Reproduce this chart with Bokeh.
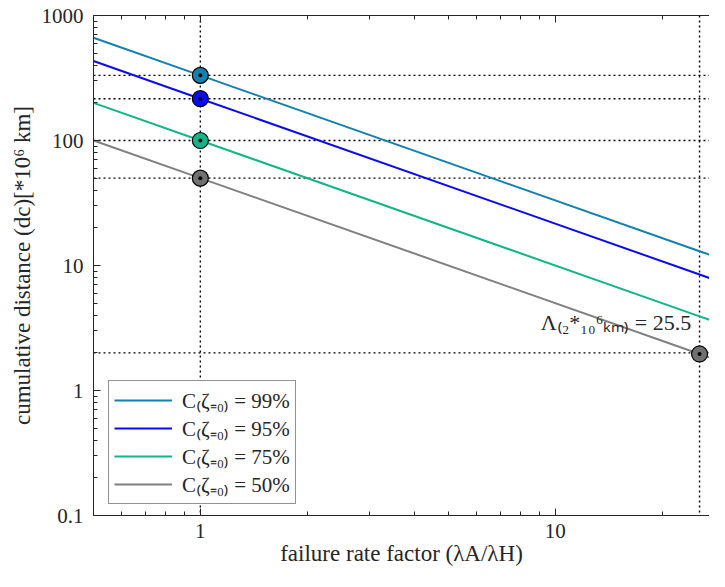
from bokeh.plotting import figure
from bokeh.models import (Span, Label, Legend, LegendItem, LogAxis, FixedTicker,
                          CustomJSTickFormatter, Range1d)
from bokeh.embed import file_html
from bokeh.resources import INLINE

# ---- data ----
factor = [0.5, 1.0, 25.5, 27.2]
d99 = [664, 332, 13.0, 12.2]
d95 = [432, 216, 8.47, 7.94]
d75 = [200, 100, 3.92, 3.68]
d50 = [100, 50, 1.96, 1.84]
series = [d99, d95, d75, d50]
series_labels = ["C₍ζ₌₀₎ = 99%", "C₍ζ₌₀₎ = 95%", "C₍ζ₌₀₎ = 75%", "C₍ζ₌₀₎ = 50%"]
colors = ["#1380B0", "#0A0AF5", "#12B58A", "#808080"]

marker_x = [1, 1, 1, 1, 25.5]
marker_y = [332, 216, 100, 50, 1.96]
marker_colors = ["#1380B0", "#0A0AF5", "#12B58A", "#707070", "#707070"]

ref_y = [332, 216, 100, 50, 2]
ref_x = [1, 25.5]

x_ticks = [1, 10]
y_ticks = [0.1, 1, 10, 100, 1000]
x_minor = [m * 10 ** e for e in (-1, 0, 1) for m in range(2, 10)]
y_minor = [m * 10 ** e for e in (-1, 0, 1, 2) for m in range(2, 10)]

annot_text = "Λ₍₂*₁₀⁶ₖₘ₎ = 25.5"
annot_x, annot_y = 9.1, 3.5

FONT = "Liberation Serif"
TXT = "#262626"

p = figure(width=709, height=571, x_axis_type="log", y_axis_type="log",
           x_range=Range1d(0.5, 27.2), y_range=Range1d(0.1, 1000),
           output_backend="svg", toolbar_location=None,
           min_border_left=93, min_border_right=0, min_border_top=15, min_border_bottom=56)
p.outline_line_color = None
p.grid.visible = False
p.background_fill_color = "white"
p.border_fill_color = "white"

fmt = CustomJSTickFormatter(code="return tick.toString();")
p.xaxis.ticker = FixedTicker(ticks=x_ticks, minor_ticks=x_minor)
p.yaxis.ticker = FixedTicker(ticks=y_ticks, minor_ticks=y_minor)
p.xaxis.formatter = fmt
p.yaxis.formatter = fmt

for ax in [p.xaxis[0], p.yaxis[0]]:
    ax.major_tick_in = 7
    ax.major_tick_out = 0
    ax.minor_tick_in = 4
    ax.minor_tick_out = 0
    ax.axis_line_color = TXT
    ax.major_tick_line_color = TXT
    ax.minor_tick_line_color = TXT
    ax.major_label_text_font = FONT
    ax.major_label_text_font_size = "21px"
    ax.major_label_text_color = TXT
    ax.axis_label_text_font = FONT
    ax.axis_label_text_font_size = "23px"
    ax.axis_label_text_font_style = "normal"
    ax.axis_label_text_color = TXT

p.xaxis.axis_label = "failure rate factor (λA/λH)"
p.yaxis.axis_label = "cumulative distance (dc)[*10⁶ km]"
p.xaxis.major_label_standoff = 8
p.xaxis.axis_label_standoff = 0
p.yaxis.major_label_standoff = 10
p.yaxis.axis_label_standoff = 4

top = LogAxis(ticker=FixedTicker(ticks=x_ticks, minor_ticks=x_minor),
              formatter=CustomJSTickFormatter(code="return '';"),
              major_tick_in=7, major_tick_out=0, minor_tick_in=4, minor_tick_out=0,
              axis_line_color=TXT, major_tick_line_color=TXT, minor_tick_line_color=TXT,
              major_label_standoff=0, major_label_text_font_size="0px")
p.add_layout(top, "above")

for yv in ref_y:
    p.add_layout(Span(location=yv, dimension="width", line_color="black",
                      line_dash="2 3", line_width=1.4, level="underlay"))
for xv in ref_x:
    p.add_layout(Span(location=xv, dimension="height", line_color="black",
                      line_dash="2 3", line_width=1.4, level="underlay"))

items = []
for vals, lab, col in zip(series, series_labels, colors):
    r = p.line(factor, vals, line_color=col, line_width=2)
    items.append(LegendItem(label=lab, renderers=[r]))

p.scatter(marker_x, marker_y, marker="circle_dot", size=16, fill_color=marker_colors,
          line_color="black", line_width=1.2)

legend = Legend(items=items, location=(15, 11), padding=5, spacing=0,
                glyph_width=58, glyph_height=28, label_height=28, label_standoff=10,
                label_text_font=FONT, label_text_font_size="21px", label_text_color=TXT,
                border_line_color=TXT, border_line_width=1, background_fill_color="white",
                background_fill_alpha=1, margin=0)
p.add_layout(legend, "center")

p.add_layout(Label(x=annot_x, y=annot_y, text=annot_text, text_font=FONT,
                   text_font_size="22px", text_color=TXT, text_baseline="middle",
                   text_align="left"))

open("out.html", "w").write(file_html(p, INLINE))
